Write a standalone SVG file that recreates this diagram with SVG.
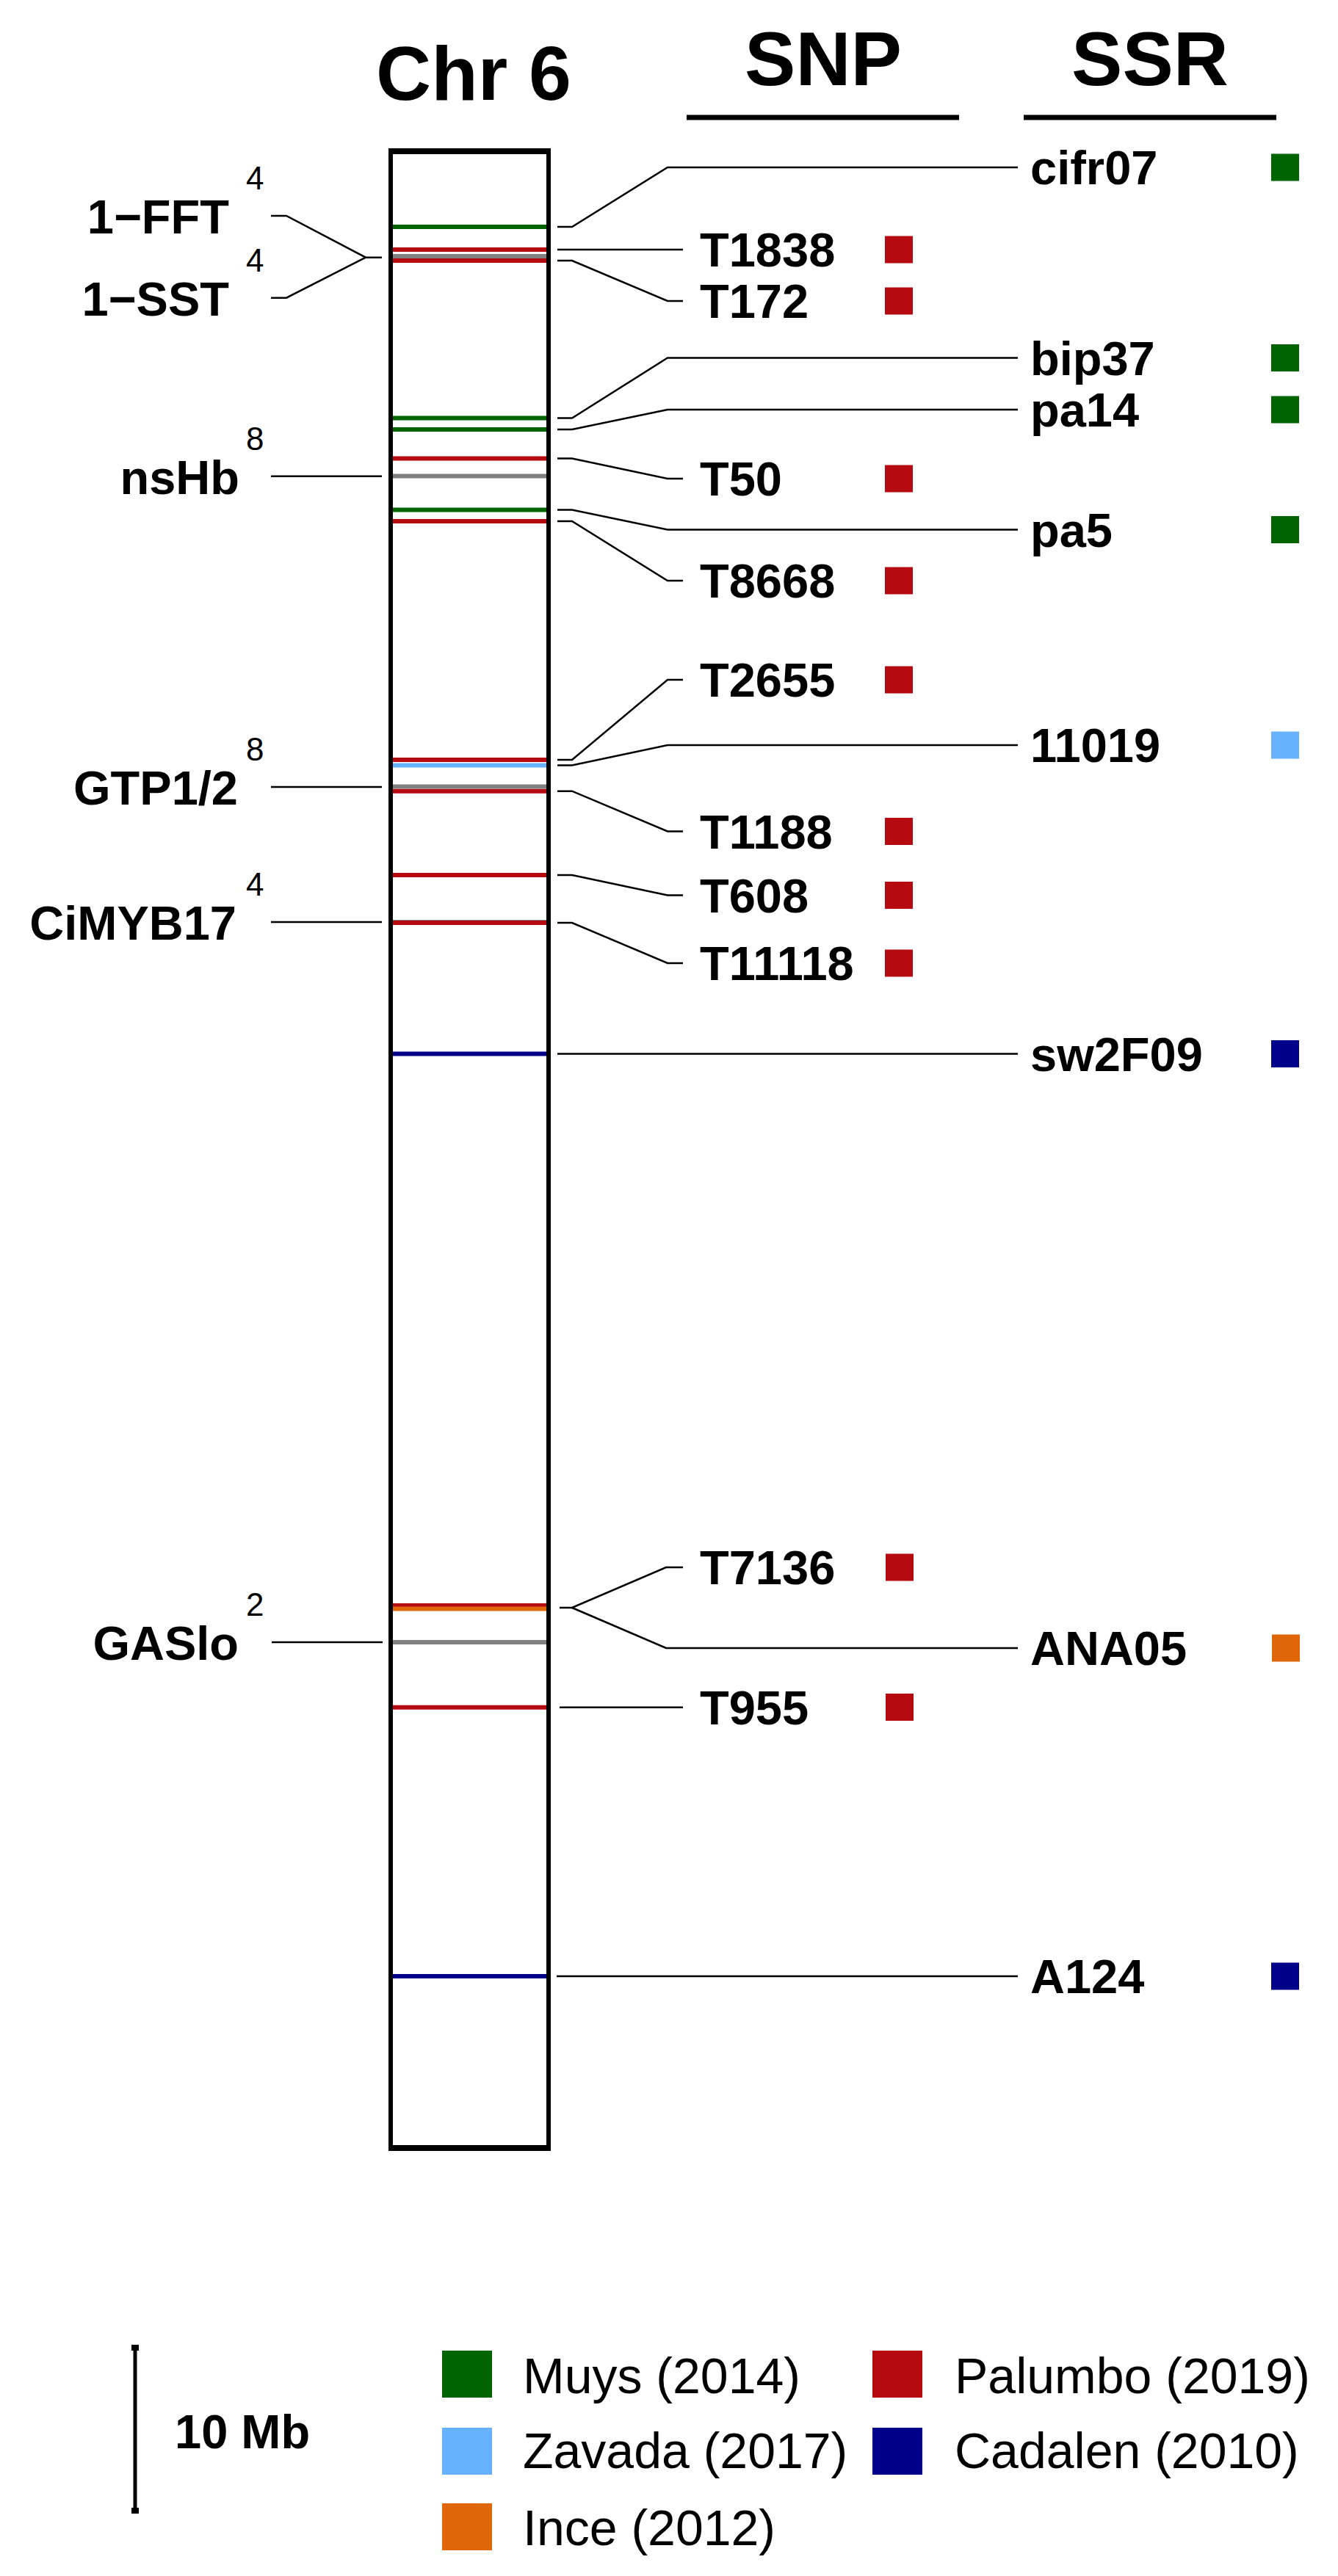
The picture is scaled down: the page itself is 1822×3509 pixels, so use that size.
<svg xmlns="http://www.w3.org/2000/svg" width="1822" height="3509" viewBox="0 0 1822 3509">
<style>
text{font-family:"Liberation Sans",Arial,sans-serif;fill:#000}
.title{font-size:104px;font-weight:bold}
.lab{font-size:65px;font-weight:bold}
.sup{font-size:44px}
.leg{font-size:68px}
.conn{fill:none;stroke:#000;stroke-width:2.5}
.band{stroke-width:6}
.g{stroke:#006400}.r{stroke:#B40A10}.lb{stroke:#66B2FF}.nv{stroke:#00008B}.or{stroke:#E0660A}.gr{stroke:#808080}
.fg{fill:#006400}.fr{fill:#B40A10}.flb{fill:#66B2FF}.fnv{fill:#00008B}.for{fill:#E0660A}
</style>
<rect width="1822" height="3509" fill="#fff"/>
<g id="headers">
<text class="title" x="645" y="136" text-anchor="middle">Chr 6</text>
<text class="title" x="1121" y="116" text-anchor="middle">SNP</text>
<text class="title" x="1566" y="116" text-anchor="middle">SSR</text>
<line x1="935" y1="160" x2="1306" y2="160" stroke="#000" stroke-width="7"/>
<line x1="1394" y1="160" x2="1738" y2="160" stroke="#000" stroke-width="7"/>
</g>
<g id="chromosome">
<rect x="532" y="206" width="215" height="2720" fill="#fff" stroke="#000" stroke-width="6"/>
<line x1="529" y1="206" x2="750" y2="206" stroke="#000" stroke-width="8"/>
<line x1="529" y1="2926" x2="750" y2="2926" stroke="#000" stroke-width="8"/>
</g>
<g id="bands" class="band">
<line class="g" x1="535" y1="309" x2="744" y2="309"/>
<line class="r" x1="535" y1="340" x2="744" y2="340"/>
<line class="gr" x1="535" y1="349" x2="744" y2="349"/>
<line class="r" x1="535" y1="355" x2="744" y2="355"/>
<line class="g" x1="535" y1="569.5" x2="744" y2="569.5"/>
<line class="g" x1="535" y1="585" x2="744" y2="585"/>
<line class="r" x1="535" y1="624.5" x2="744" y2="624.5"/>
<line class="gr" x1="535" y1="648.5" x2="744" y2="648.5"/>
<line class="g" x1="535" y1="694.5" x2="744" y2="694.5"/>
<line class="r" x1="535" y1="710" x2="744" y2="710"/>
<line class="r" x1="535" y1="1035" x2="744" y2="1035"/>
<line class="lb" x1="535" y1="1042.5" x2="744" y2="1042.5"/>
<line class="gr" x1="535" y1="1071.5" x2="744" y2="1071.5"/>
<line class="r" x1="535" y1="1077.7" x2="744" y2="1077.7"/>
<line class="r" x1="535" y1="1192" x2="744" y2="1192"/>
<line class="gr" x1="535" y1="1256" x2="744" y2="1256"/>
<line class="r" x1="535" y1="1257" x2="744" y2="1257"/>
<line class="nv" x1="535" y1="1435.5" x2="744" y2="1435.5"/>
<line class="r" x1="535" y1="2187" x2="744" y2="2187"/>
<line class="or" x1="535" y1="2191.5" x2="744" y2="2191.5"/>
<line class="gr" x1="535" y1="2237" x2="744" y2="2237"/>
<line class="r" x1="535" y1="2325.7" x2="744" y2="2325.7"/>
<line class="nv" x1="535" y1="2692" x2="744" y2="2692"/>
</g>
<g id="connectors" class="conn">
<path d="M759,309 H779 L909,228 H1386"/>
<path d="M759,340 H930"/>
<path d="M759,355 H779 L909,410 H930"/>
<path d="M759,569.5 H779 L909,487.5 H1386"/>
<path d="M759,585 H779 L909,558 H1386"/>
<path d="M759,624.5 H779 L909,652 H930"/>
<path d="M759,694.5 H779 L909,721.5 H1386"/>
<path d="M759,710 H779 L909,791 H930"/>
<path d="M759,1035 H779 L909,926 H930"/>
<path d="M759,1042.5 H779 L909,1015 H1386"/>
<path d="M759,1077.7 H779 L909,1132.5 H930"/>
<path d="M759,1192 H779 L909,1219.5 H930"/>
<path d="M759,1257 H779 L909,1312 H930"/>
<path d="M759,1435.5 H1386"/>
<path d="M762,2190 H779 L907,2135 H930"/>
<path d="M779,2190 L907,2245 H1386"/>
<path d="M762,2325.7 H930"/>
<path d="M758,2692 H1386"/>
<path d="M369,294 H390 L498,350.7 H520"/>
<path d="M369,405.7 H390 L498,350.7"/>
<path d="M369,648.7 H520"/>
<path d="M369,1072 H520"/>
<path d="M369,1256 H520"/>
<path d="M370,2237 H521"/>
</g>
<g id="left-labels">
<g id="n-1FFT"><text class="lab" x="312" y="318" text-anchor="end">1−FFT</text><text class="sup" x="335" y="258">4</text></g>
<g id="n-1SST"><text class="lab" x="312" y="430" text-anchor="end">1−SST</text><text class="sup" x="335" y="370">4</text></g>
<g id="n-nsHb"><text class="lab" x="326" y="673" text-anchor="end">nsHb</text><text class="sup" x="335" y="613">8</text></g>
<g id="n-GTP"><text class="lab" x="324" y="1096" text-anchor="end">GTP1/2</text><text class="sup" x="335" y="1036">8</text></g>
<g id="n-CiMYB17"><text class="lab" x="322" y="1280" text-anchor="end">CiMYB17</text><text class="sup" x="335" y="1220">4</text></g>
<g id="n-GASlo"><text class="lab" x="325" y="2261" text-anchor="end">GASlo</text><text class="sup" x="335" y="2201">2</text></g>
</g>
<g id="snp-labels">
<g id="n-T1838"><text class="lab" x="953" y="363">T1838</text><rect class="fr" x="1205" y="321.5" width="38" height="37"/></g>
<g id="n-T172"><text class="lab" x="953" y="433">T172</text><rect class="fr" x="1205" y="391.5" width="38" height="37"/></g>
<g id="n-T50"><text class="lab" x="953" y="675">T50</text><rect class="fr" x="1205" y="633.5" width="38" height="37"/></g>
<g id="n-T8668"><text class="lab" x="953" y="814">T8668</text><rect class="fr" x="1205" y="772.5" width="38" height="37"/></g>
<g id="n-T2655"><text class="lab" x="953" y="949">T2655</text><rect class="fr" x="1205" y="907.5" width="38" height="37"/></g>
<g id="n-T1188"><text class="lab" x="953" y="1155.5">T1188</text><rect class="fr" x="1205" y="1114" width="38" height="37"/></g>
<g id="n-T608"><text class="lab" x="953" y="1242.5">T608</text><rect class="fr" x="1205" y="1201" width="38" height="37"/></g>
<g id="n-T11118"><text class="lab" x="953" y="1335">T11118</text><rect class="fr" x="1205" y="1293.5" width="38" height="37"/></g>
<g id="n-T7136"><text class="lab" x="953" y="2158">T7136</text><rect class="fr" x="1206" y="2116.5" width="38" height="37"/></g>
<g id="n-T955"><text class="lab" x="953" y="2348.7">T955</text><rect class="fr" x="1206" y="2307" width="38" height="37"/></g>
</g>
<g id="ssr-labels">
<g id="n-cifr07"><text class="lab" x="1403" y="251">cifr07</text><rect class="fg" x="1731" y="209.5" width="38" height="37"/></g>
<g id="n-bip37"><text class="lab" x="1403" y="510.5">bip37</text><rect class="fg" x="1731" y="469" width="38" height="37"/></g>
<g id="n-pa14"><text class="lab" x="1403" y="581">pa14</text><rect class="fg" x="1731" y="539.5" width="38" height="37"/></g>
<g id="n-pa5"><text class="lab" x="1403" y="744.5">pa5</text><rect class="fg" x="1731" y="703" width="38" height="37"/></g>
<g id="n-11019"><text class="lab" x="1403" y="1038">11019</text><rect class="flb" x="1731" y="996.5" width="38" height="37"/></g>
<g id="n-sw2F09"><text class="lab" x="1403" y="1458.5">sw2F09</text><rect class="fnv" x="1731" y="1417" width="38" height="37"/></g>
<g id="n-ANA05"><text class="lab" x="1403" y="2268">ANA05</text><rect class="for" x="1732" y="2226.5" width="38" height="37"/></g>
<g id="n-A124"><text class="lab" x="1403" y="2715">A124</text><rect class="fnv" x="1731" y="2673.5" width="38" height="37"/></g>
</g>
<g id="scale">
<line x1="184" y1="3197" x2="184" y2="3421" stroke="#000" stroke-width="5"/>
<rect x="179" y="3194" width="10" height="8" fill="#000"/>
<rect x="179" y="3416" width="10" height="8" fill="#000"/>
<text class="lab" x="238" y="3335">10 Mb</text>
</g>
<g id="legend">
<rect class="fg" x="602" y="3202" width="68" height="64"/><text class="leg" x="712" y="3260">Muys (2014)</text>
<rect class="fr" x="1188" y="3202" width="68" height="64"/><text class="leg" x="1300" y="3260">Palumbo (2019)</text>
<rect class="flb" x="602" y="3307" width="68" height="64"/><text class="leg" x="712" y="3362">Zavada (2017)</text>
<rect class="fnv" x="1188" y="3307" width="68" height="64"/><text class="leg" x="1300" y="3362">Cadalen (2010)</text>
<rect class="for" x="602" y="3410" width="68" height="64"/><text class="leg" x="712" y="3467">Ince (2012)</text>
</g>
</svg>
